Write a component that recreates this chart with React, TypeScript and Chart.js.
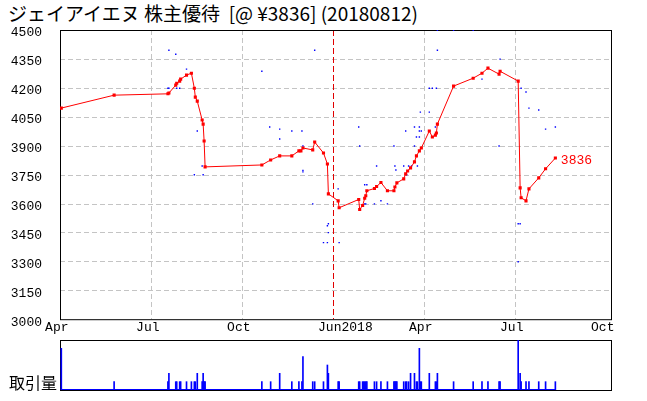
import React, { useEffect, useRef } from 'react';
import { Chart, registerables } from 'chart.js';

Chart.register(...registerables);

const TITLE = 'ジェイアイエヌ 株主優待  [@ ¥3836] (20180812)';
const VOLUME_LABEL = '取引量';

// price line
const priceDates = [
  '2017-04-02', '2017-05-25', '2017-07-18', '2017-07-19', '2017-07-26', '2017-07-27', '2017-07-30', '2017-07-31',
  '2017-08-06', '2017-08-11', '2017-08-14', '2017-08-15', '2017-08-17', '2017-08-22', '2017-08-23', '2017-08-24',
  '2017-08-25', '2017-10-21', '2017-10-30', '2017-11-08', '2017-11-20', '2017-11-27', '2017-11-29', '2017-12-01',
  '2017-12-11', '2017-12-13', '2017-12-22', '2017-12-26', '2017-12-27', '2018-01-06', '2018-01-07', '2018-01-27',
  '2018-01-28', '2018-01-31', '2018-02-02', '2018-02-03', '2018-02-04', '2018-02-11', '2018-02-13', '2018-02-17',
  '2018-02-23', '2018-03-01', '2018-03-02', '2018-03-04', '2018-03-11', '2018-03-13', '2018-03-15', '2018-03-18',
  '2018-03-22', '2018-03-24', '2018-03-27', '2018-03-29', '2018-04-06', '2018-04-09', '2018-04-12', '2018-04-13',
  '2018-04-14', '2018-04-30', '2018-05-20', '2018-05-29', '2018-06-04', '2018-06-15', '2018-06-16', '2018-07-04',
  '2018-07-06', '2018-07-07', '2018-07-12', '2018-07-15', '2018-07-25', '2018-08-01', '2018-08-11',
];
const priceValues = [
  4095, 4162, 4169, 4173, 4214, 4224, 4235, 4245,
  4266, 4276, 4198, 4152, 4131, 4033, 4012, 3924,
  3790, 3800, 3826, 3847, 3847, 3873, 3873, 3888,
  3878, 3919, 3862, 3805, 3650, 3614, 3578, 3621,
  3569, 3590, 3627, 3640, 3666, 3678, 3688, 3709,
  3666, 3666, 3686, 3707, 3728, 3754, 3769, 3785,
  3816, 3847, 3873, 3888, 3976, 3945, 3955, 3966,
  4012, 4209, 4250, 4276, 4302, 4271, 4286, 4235,
  3681, 3630, 3614, 3676, 3733, 3780, 3836,
];

// small blue dots
const dotDates = [
  '2017-07-18', '2017-07-19', '2017-07-27', '2017-07-30', '2017-07-19', '2017-07-26', '2017-08-06', '2017-08-17',
  '2017-08-22', '2017-08-14', '2017-08-23', '2017-10-21', '2017-10-29', '2017-11-08', '2017-11-08', '2017-11-20',
  '2017-11-30', '2017-12-01', '2017-12-01', '2017-12-01', '2017-12-13', '2017-12-11', '2018-01-06', '2017-12-27',
  '2017-12-26', '2017-12-27', '2017-12-22', '2017-12-26', '2018-01-07', '2018-01-27', '2018-01-28', '2018-02-13',
  '2018-02-02', '2018-02-04', '2018-02-17', '2018-02-02', '2018-02-03', '2018-02-11', '2018-02-23', '2018-03-01',
  '2018-03-02', '2018-03-03', '2018-03-11', '2018-03-16', '2018-03-19', '2018-03-25', '2018-03-14', '2018-03-13',
  '2018-03-22', '2018-03-27', '2018-03-27', '2018-03-29', '2018-03-24', '2018-03-27', '2018-03-22', '2018-03-28',
  '2018-04-06', '2018-04-12', '2018-04-14', '2018-04-30', '2018-05-20', '2018-04-14', '2018-04-06', '2018-04-09',
  '2018-04-13', '2018-05-29', '2018-06-16', '2018-06-15', '2018-07-07', '2018-07-12', '2018-07-15', '2018-07-25',
  '2018-08-01', '2018-08-11', '2018-07-04', '2018-07-06', '2018-07-04',
];
const dotValues = [
  4198, 4198, 4198, 4198, 4395, 4374, 4297, 3976,
  3795, 3749, 3749, 4286, 3997, 3986, 3935, 3976,
  3976, 3898, 3772, 3764, 4395, 3598, 3676, 3495,
  3485, 3449, 3397, 3397, 3397, 3997, 3898, 3795,
  3697, 3697, 3614, 3598, 3598, 3598, 3598, 3898,
  3795, 3774, 3795, 3795, 3795, 3795, 3749, 3976,
  3997, 3997, 3976, 3976, 3945, 3945, 3898, 4074,
  4074, 3997, 4498, 4498, 4498, 4395, 4198, 4198,
  4198, 4245, 4349, 3898, 4198, 4178, 4095, 4085,
  3986, 3997, 3495, 3495, 3298,
];

// volume
const volumeDates = [
  '2017-04-02', '2017-05-25', '2017-07-18', '2017-07-19', '2017-07-26', '2017-07-27', '2017-07-30', '2017-07-31',
  '2017-08-06', '2017-08-11', '2017-08-14', '2017-08-15', '2017-08-17', '2017-08-22', '2017-08-23', '2017-08-24',
  '2017-08-25', '2017-10-21', '2017-10-30', '2017-11-08', '2017-11-20', '2017-11-27', '2017-11-30', '2017-12-01',
  '2017-12-11', '2017-12-13', '2017-12-22', '2017-12-26', '2017-12-27', '2018-01-06', '2018-01-07', '2018-01-27',
  '2018-01-28', '2018-01-31', '2018-02-01', '2018-02-02', '2018-02-03', '2018-02-04', '2018-02-11', '2018-02-13',
  '2018-02-17', '2018-02-23', '2018-03-01', '2018-03-02', '2018-03-03', '2018-03-04', '2018-03-11', '2018-03-13',
  '2018-03-14', '2018-03-16', '2018-03-18', '2018-03-22', '2018-03-24', '2018-03-25', '2018-03-27', '2018-03-28',
  '2018-03-29', '2018-04-06', '2018-04-12', '2018-04-13', '2018-04-14', '2018-04-30', '2018-05-20', '2018-05-29',
  '2018-06-04', '2018-06-15', '2018-06-16', '2018-07-04', '2018-07-06', '2018-07-07', '2018-07-12', '2018-07-15',
  '2018-07-25', '2018-08-01', '2018-08-11',
];
const volumeValues = [
  500, 100, 100, 200, 100, 100, 100, 100,
  100, 100, 100, 100, 200, 100, 200, 100,
  100, 100, 100, 200, 100, 100, 100, 400,
  100, 100, 100, 300, 200, 100, 100, 100,
  100, 100, 100, 100, 100, 100, 100, 100,
  100, 100, 100, 100, 100, 100, 100, 100,
  100, 100, 200, 200, 100, 100, 500, 100,
  100, 200, 100, 100, 200, 100, 100, 100,
  100, 100, 100, 600, 200, 100, 100, 100,
  100, 100, 100,
];

// axes
const xTickDates = ['2017-04-01', '2017-07-01', '2017-10-01', '2018-01-01', '2018-04-01', '2018-07-01', '2018-10-01'];
const xTickLabels = ['Apr', 'Jul', 'Oct', 'Jun2018', 'Apr', 'Jul', 'Oct'];
const xMin = -0.01;
const xMax = 18.19;
const yMin = 3000;
const yMax = 4500;
const yStep = 150;
const volMin = 0;
const volMax = 600;

// month-based position (months since 2017-04)
function monthPos(s: string): number {
  const [y, m, d] = s.split('-').map(Number);
  const idx = (y - 2017) * 12 + (m - 4);
  const dim = new Date(Date.UTC(y, m, 0)).getUTCDate();
  return idx + (d - 1) / dim;
}

const tickValues = xTickDates.map(monthPos);
const MONO = "'Liberation Mono', 'DejaVu Sans Mono', monospace";

function framePlugin(withGrid: boolean) {
  return {
    id: 'frameGrid',
    beforeDatasetsDraw(chart: any) {
      const { ctx, chartArea: a, scales } = chart;
      ctx.save();
      ctx.lineWidth = 1;
      if (withGrid) {
        const ys = scales.y;
        ctx.strokeStyle = '#c4c4c4';
        ctx.setLineDash([5, 3]);
        ys.ticks.forEach((t: any) => {
          if (t.value <= ys.min || t.value >= ys.max) return;
          const y = Math.round(ys.getPixelForValue(t.value)) + 0.5;
          ctx.beginPath();
          ctx.moveTo(a.left, y);
          ctx.lineTo(a.right, y);
          ctx.stroke();
        });
        const xs = scales.x;
        xTickDates.forEach((d, i) => {
          if (i === 0 || i === xTickDates.length - 1) return;
          const x = Math.round(xs.getPixelForValue(tickValues[i])) + 0.5;
          const isYear = d.endsWith('-01-01');
          ctx.strokeStyle = isYear ? '#e00000' : '#c4c4c4';
          ctx.setLineDash(isYear ? [6, 3] : [5, 3]);
          ctx.beginPath();
          ctx.moveTo(x, a.top);
          ctx.lineTo(x, a.bottom);
          ctx.stroke();
        });
      }
      ctx.setLineDash([]);
      ctx.strokeStyle = '#000';
      ctx.strokeRect(a.left + 0.5, a.top + 0.5, a.right - a.left - 1, a.bottom - a.top);
      ctx.restore();
    },
  };
}

const lastLabelPlugin = {
  id: 'lastLabel',
  afterDatasetsDraw(chart: any) {
    const meta = chart.getDatasetMeta(0);
    const pt = meta.data[meta.data.length - 1];
    if (!pt) return;
    const { ctx } = chart;
    ctx.save();
    ctx.fillStyle = '#ff0000';
    ctx.font = `13px ${MONO}`;
    ctx.textBaseline = 'middle';
    ctx.textAlign = 'left';
    ctx.fillText(String(priceValues[priceValues.length - 1]), pt.x + 5.5, pt.y + 3);
    ctx.restore();
  },
};

export default function App() {
  const mainRef = useRef<HTMLCanvasElement | null>(null);
  const volRef = useRef<HTMLCanvasElement | null>(null);

  useEffect(() => {
    const main = new Chart(mainRef.current as HTMLCanvasElement, {
      type: 'line',
      data: {
        datasets: [
          {
            data: priceDates.map((d, i) => ({ x: monthPos(d), y: priceValues[i] })),
            borderColor: '#ff0000',
            backgroundColor: '#ff0000',
            borderWidth: 1,
            pointStyle: 'rect',
            pointRadius: 2.2,
            pointBorderWidth: 0,
            pointBackgroundColor: '#ff0000',
            tension: 0,
          } as any,
          {
            type: 'scatter',
            data: dotDates.map((d, i) => ({ x: monthPos(d), y: dotValues[i] })),
            showLine: false,
            pointStyle: 'rect',
            pointRadius: 1,
            pointBorderWidth: 0,
            pointBackgroundColor: '#0000ff',
            borderColor: '#0000ff',
          } as any,
        ],
      },
      options: {
        animation: false,
        responsive: false,
        maintainAspectRatio: false,
        events: [],
        layout: { padding: { top: 30, right: 35, left: 0, bottom: 0 } },
        plugins: { legend: { display: false }, tooltip: { enabled: false }, title: { display: false } },
        scales: {
          x: {
            type: 'linear',
            min: xMin,
            max: xMax,
            offset: false,
            grid: { display: false, drawTicks: false },
            border: { display: false },
            afterBuildTicks: (scale: any) => {
              scale.ticks = tickValues.map((v) => ({ value: v }));
            },
            afterFit: (scale: any) => {
              scale.height = 25;
            },
            ticks: {
              autoSkip: false,
              maxRotation: 0,
              minRotation: 0,
              padding: 1,
              labelOffset: -3.5,
              color: '#000',
              font: { family: MONO, size: 13 },
              callback: (_v: any, i: number) => {
                const l = xTickLabels[i];
                return l.length > 3 ? ' '.repeat(l.length - 3) + l : l;
              },
            },
          },
          y: {
            type: 'linear',
            min: yMin,
            max: yMax,
            grid: { display: false, drawTicks: false },
            border: { display: false },
            afterFit: (scale: any) => {
              scale.width = 60;
            },
            ticks: {
              stepSize: yStep,
              padding: 18,
              labelOffset: 3,
              color: '#000',
              font: { family: MONO, size: 13 },
              callback: (v: any) => String(v),
            },
          },
        },
      } as any,
      plugins: [framePlugin(true), lastLabelPlugin],
    });

    const firstVol = monthPos(volumeDates[0]);
    const lastVol = monthPos(volumeDates[volumeDates.length - 1]);
    const vol = new Chart(volRef.current as HTMLCanvasElement, {
      type: 'bar',
      data: {
        datasets: [
          {
            type: 'line',
            data: [
              { x: firstVol, y: 0 },
              { x: lastVol, y: 0 },
            ],
            borderColor: '#0000ff',
            borderWidth: 2,
            pointRadius: 0,
          } as any,
          {
            data: volumeDates.map((d, i) => ({ x: monthPos(d), y: volumeValues[i] })),
            backgroundColor: '#0000ff',
            borderWidth: 0,
            barThickness: 1,
            grouped: false,
          } as any,
        ],
      },
      options: {
        animation: false,
        responsive: false,
        maintainAspectRatio: false,
        events: [],
        layout: { padding: { top: 10, right: 35, left: 60, bottom: 11 } },
        plugins: { legend: { display: false }, tooltip: { enabled: false } },
        scales: {
          x: { type: 'linear', min: xMin, max: xMax, offset: false, display: false },
          y: { type: 'linear', min: volMin, max: volMax, display: false },
        },
      } as any,
      plugins: [framePlugin(false)],
    });

    return () => {
      main.destroy();
      vol.destroy();
    };
  }, []);

  return (
    <div style={{ position: 'absolute', left: 0, top: 0, width: 647, height: 401, background: '#fff', overflow: 'hidden' }}>
      <div
        style={{
          position: 'absolute',
          left: 8,
          top: 2,
          fontFamily: "'Noto Sans CJK JP', sans-serif",
          fontSize: 19,
          lineHeight: '21px',
          whiteSpace: 'pre',
          color: '#000',
        }}
      >
        {TITLE}
      </div>
      <canvas ref={mainRef} width={647} height={345} style={{ position: 'absolute', left: 0, top: 0, width: 647, height: 345 }} />
      <canvas ref={volRef} width={647} height={71} style={{ position: 'absolute', left: 0, top: 330, width: 647, height: 71 }} />
      <div
        style={{
          position: 'absolute',
          left: 9,
          top: 374,
          fontFamily: "'Noto Sans CJK JP', sans-serif",
          fontSize: 16,
          lineHeight: '17px',
          whiteSpace: 'pre',
          color: '#000',
        }}
      >
        {VOLUME_LABEL}
      </div>
    </div>
  );
}
